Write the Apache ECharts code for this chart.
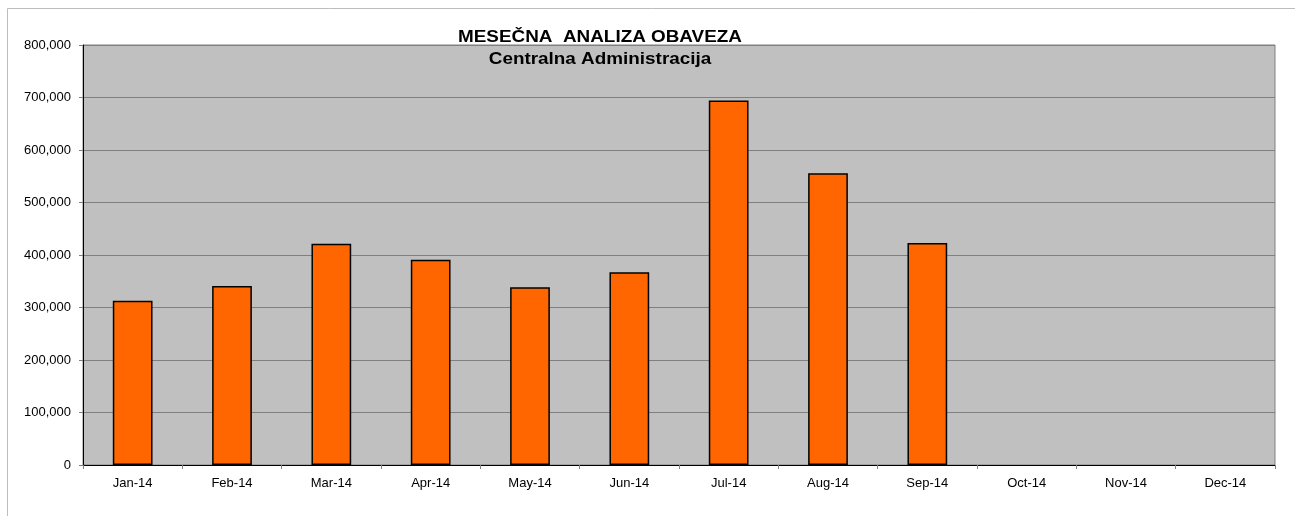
<!DOCTYPE html>
<html>
<head>
<meta charset="utf-8">
<script src="https://cdn.jsdelivr.net/npm/echarts@6/dist/echarts.min.js"></script>
<style>
  html, body { margin: 0; padding: 0; background: #fff; }
  #main { width: 1295px; height: 516px; }
</style>
</head>
<body>
<div id="main"></div>
<script>
// podaci
const months = ['Jan-14', 'Feb-14', 'Mar-14', 'Apr-14', 'May-14', 'Jun-14',
  'Jul-14', 'Aug-14', 'Sep-14', 'Oct-14', 'Nov-14', 'Dec-14']
const obaveze = [313000, 341000, 421500, 391000, 338500, 367000,
  694500, 555500, 423000, null, null, null]
const titleLines = ['MESEČNA  ANALIZA OBAVEZA', 'Centralna Administracija']

const font = 'Liberation Sans, Arial, sans-serif'
const chart = echarts.init(document.getElementById('main'))

// naslov - tekst je u originalu malo razvučen po širini
const titleText = (text, y) => ({
  type: 'text',
  x: 600,
  y: y,
  scaleX: 1.18,
  z: 100,
  silent: true,
  style: {
    text: text,
    font: 'bold 16px ' + font,
    fill: '#000',
    textAlign: 'center',
    textVerticalAlign: 'middle'
  }
})

const option = {
  animation: false,
  backgroundColor: '#fff',
  graphic: [
    {
      type: 'rect',
      shape: { x: 7.5, y: 8.5, width: 1300, height: 520 },
      style: { fill: 'none', stroke: '#bdbdbd', lineWidth: 1 },
      silent: true,
      z: -1
    },
    titleText(titleLines[0], 38),
    titleText(titleLines[1], 59.5)
  ],
  grid: {
    left: 83,
    right: 20,
    top: 45,
    bottom: 51,
    show: true,
    backgroundColor: '#c0c0c0',
    borderColor: '#808080',
    borderWidth: 1
  },
  xAxis: {
    type: 'category',
    data: months,
    axisLine: { lineStyle: { color: '#000', width: 1 } },
    axisTick: { show: true, length: 4, lineStyle: { color: '#808080' } },
    axisLabel: {
      color: '#000',
      fontSize: 13,
      fontFamily: font,
      margin: 12
    }
  },
  yAxis: {
    type: 'value',
    min: 0,
    max: 800000,
    interval: 100000,
    axisLine: { show: true, lineStyle: { color: '#000', width: 1 } },
    axisTick: { show: true, length: 4, lineStyle: { color: '#808080' } },
    axisLabel: {
      color: '#000',
      fontSize: 13,
      fontFamily: font,
      margin: 12,
      formatter: (v) => v.toLocaleString('en-US')
    },
    splitLine: { show: true, lineStyle: { color: '#808080', width: 1 } }
  },
  series: [
    {
      name: 'Obaveze',
      type: 'bar',
      data: obaveze,
      barWidth: '40%',
      itemStyle: {
        color: '#ff6600',
        borderColor: '#000',
        borderWidth: 1.5
      }
    }
  ]
}

chart.setOption(option)
</script>
</body>
</html>
